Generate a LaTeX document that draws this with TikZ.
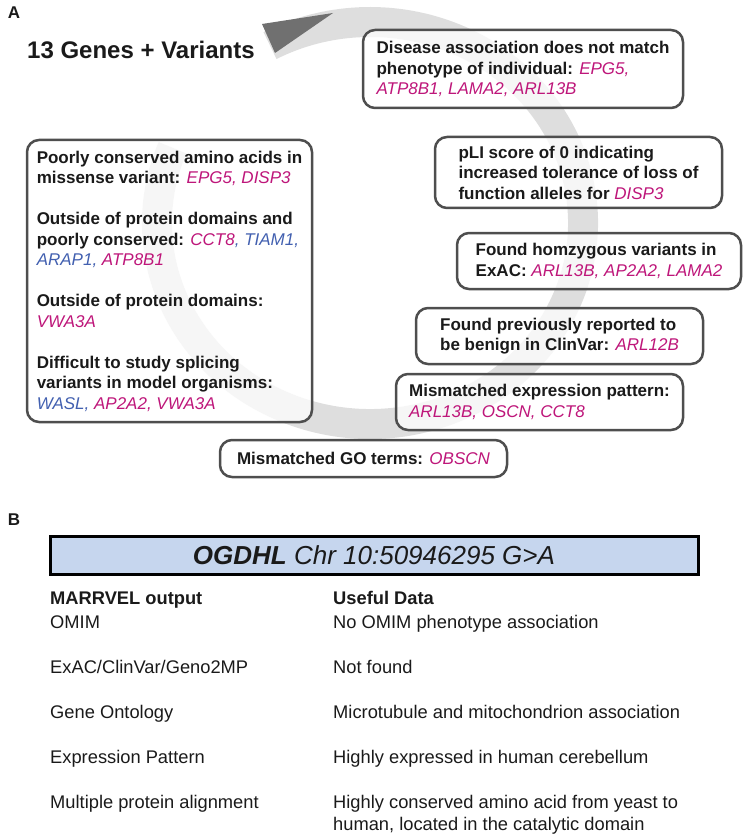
\documentclass[tikz,border=0pt]{standalone}
\usepackage{fontspec}
\setmainfont{Liberation Sans}
\usetikzlibrary{positioning}

\definecolor{bandgray}{RGB}{222,222,222}
\definecolor{headgray}{RGB}{112,112,112}
\definecolor{boxline}{RGB}{78,78,78}
\definecolor{genepink}{RGB}{190,22,122}
\definecolor{geneblue}{RGB}{66,96,176}
\definecolor{headblue}{RGB}{198,214,238}
\definecolor{inkblack}{RGB}{26,26,26}

\newcommand{\gp}[1]{{\color{genepink}\mdseries\itshape #1}}
\newcommand{\gb}[1]{{\color{geneblue}\mdseries\itshape #1}}

\tikzset{
  band/.style={draw=bandgray, line width=30pt},
  filterbox/.style={draw=boxline, line width=2.5pt, rounded corners=12pt,
    fill=white, fill opacity=0.75, text opacity=1, text=inkblack,
    align=left, inner sep=0pt,
    font=\bfseries\fontsize{17}{20.5}\selectfont},
  panel/.style={font=\bfseries\fontsize{17}{20}\selectfont, inner sep=0pt, text=inkblack},
  rowtext/.style={anchor=base west, inner sep=0pt, align=left, text=inkblack,
    font=\fontsize{18.3}{22}\selectfont},
}

\begin{document}
\begin{tikzpicture}[x=1pt, y=1pt]
\useasboundingbox (0,0) rectangle (745,-834);

% panel A
\node[panel] (panelA) at (14,-13) {A};
\node[anchor=west, inner sep=0pt, text=inkblack, font=\bfseries\fontsize{24}{29}\selectfont] (title) at (27,-50) {13 Genes + Variants};

\draw[band] (370,-223) ++(158:213pt and 201pt) arc[start angle=158, end angle=478, x radius=213pt, y radius=201pt];
\fill[headgray] (262,-24) -- (333,-13) -- (275,-53) -- cycle;

\node[filterbox, minimum width=320pt, minimum height=78pt] (disease) at (523,-69)
  {Disease association does not match\\ phenotype of individual: \gp{EPG5,}\\ \gp{ATP8B1, LAMA2, ARL13B}};
\node[filterbox, minimum width=287pt, minimum height=71pt] (pli) at (578.5,-172.5)
  {pLI score of 0 indicating\\ increased tolerance of loss of\\ function alleles for \gp{DISP3}};
\node[filterbox, minimum width=284pt, minimum height=56pt] (homzyg) at (599,-261)
  {Found homzygous variants in\\ ExAC: \gp{ARL13B, AP2A2, LAMA2}};
\node[filterbox, minimum width=287pt, minimum height=56pt] (clinvar) at (559.5,-336)
  {Found previously reported to\\ be benign in ClinVar: \gp{ARL12B}};
\node[filterbox, minimum width=287pt, minimum height=56pt] (expr) at (539.5,-402)
  {Mismatched expression pattern:\\ \gp{ARL13B, OSCN, CCT8}};
\node[filterbox, minimum width=287pt, minimum height=37pt] (goterms) at (363.5,-458.5)
  {Mismatched GO terms: \gp{OBSCN}};
\node[filterbox, minimum width=285pt, minimum height=282pt] (conserved) at (169.5,-281)
  {Poorly conserved amino acids in\\ missense variant: \gp{EPG5, DISP3}\\[20.5pt]
   Outside of protein domains and\\ poorly conserved: \gp{CCT8}\gb{, TIAM1,}\\ \gb{ARAP1,} \gp{ATP8B1}\\[20.5pt]
   Outside of protein domains:\\ \gp{VWA3A}\\[20.5pt]
   Difficult to study splicing\\ variants in model organisms:\\ \gb{WASL,} \gp{AP2A2, VWA3A}};

% panel B
\node[panel] (panelB) at (14,-520) {B};
\node[draw=black, line width=3pt, fill=headblue, text=inkblack, minimum width=648pt, minimum height=38pt,
  font=\itshape\fontsize{26}{30}\selectfont] (gene) at (374,-555) {\textbf{OGDHL} Chr 10:50946295 G>A};

\node[rowtext, font=\bfseries\fontsize{18.3}{22}\selectfont] (outhead) at (50,-604.5) {MARRVEL output};
\node[rowtext, font=\bfseries\fontsize{18.3}{22}\selectfont] (datahead) at (333,-604.5) {Useful Data};

\node[rowtext] (omim) at (50,-628.5) {OMIM};
\node[rowtext] (omimdata) at (333,-628.5) {No OMIM phenotype association};
\node[rowtext] (exac) at (50,-673.5) {ExAC/ClinVar/Geno2MP};
\node[rowtext] (exacdata) at (333,-673.5) {Not found};
\node[rowtext] (go) at (50,-718.5) {Gene Ontology};
\node[rowtext] (godata) at (333,-718.5) {Microtubule and mitochondrion association};
\node[rowtext] (pattern) at (50,-763.5) {Expression Pattern};
\node[rowtext] (patterndata) at (333,-763.5) {Highly expressed in human cerebellum};
\node[rowtext] (align) at (50,-808.5) {Multiple protein alignment};
\node[rowtext] (aligndata) at (333,-830.5) {Highly conserved amino acid from yeast to\\ human, located in the catalytic domain};

\end{tikzpicture}
\end{document}
